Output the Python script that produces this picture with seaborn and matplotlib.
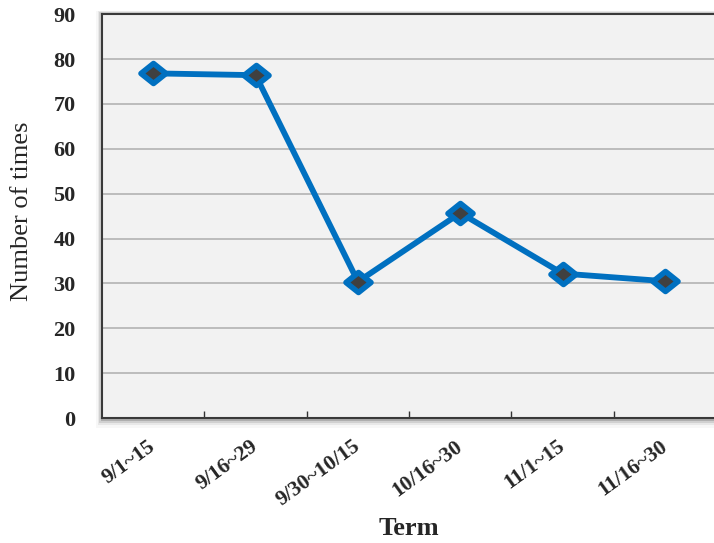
import matplotlib
matplotlib.use("Agg")
import matplotlib.pyplot as plt
from matplotlib.patches import Rectangle
from matplotlib.path import Path
import numpy as np
import pandas as pd
import seaborn as sns

terms = ["9/1~15", "9/16~29", "9/30~10/15", "10/16~30", "11/1~15", "11/16~30"]
counts = [76.8, 76.4, 30.4, 45.7, 32.2, 30.5]
y_ticks = [0, 10, 20, 30, 40, 50, 60, 70, 80, 90]

sns.set_theme(style="white")
plt.rcParams["font.family"] = ["Liberation Serif", "DejaVu Serif"]

df = pd.DataFrame({"term": terms, "count": counts, "pos": np.arange(len(terms))})

fig = plt.figure(figsize=(7.14, 5.43), dpi=100)
fig.patch.set_facecolor("white")

left, bottom, width, height = 0.143, 0.230, 0.860, 0.744

# soft drop shadow behind the plot frame
for i, a in enumerate([0.16, 0.10, 0.06, 0.03]):
    off = (i + 1) * 1.5
    fig.patches.append(Rectangle((left - off / 714, bottom - 1.6 * off / 543),
                                 width + 2 * off / 714, height + 2.2 * off / 543,
                                 transform=fig.transFigure, facecolor="black",
                                 alpha=a, edgecolor="none", zorder=0))

ax = fig.add_axes([left, bottom, width, height])
ax.set_zorder(2)
ax.set_facecolor("#f2f2f2")

diamond = Path([(-1.25, 0), (0, 1), (1.25, 0), (0, -1), (-1.25, 0)],
               [Path.MOVETO, Path.LINETO, Path.LINETO, Path.LINETO, Path.CLOSEPOLY])

sns.lineplot(data=df, x="pos", y="count", ax=ax, sort=False, color="#0070c0",
             linewidth=4.2, marker=diamond, markersize=18,
             markerfacecolor="#404040", markeredgecolor="#0070c0",
             markeredgewidth=4, zorder=3)

ax.set_xlim(-0.5, len(terms) - 0.5)
ax.set_ylim(0, 90)
ax.set_yticks(y_ticks)
ax.set_yticklabels([str(t) for t in y_ticks], fontsize=16, fontweight="bold")
ax.yaxis.grid(True, color="#b8b8b8", linewidth=1.3)
ax.xaxis.grid(False)
ax.set_axisbelow(True)

ax.set_xticks(np.arange(len(terms)))
ax.set_xticklabels(terms, fontsize=15.5, fontweight="bold", rotation=36,
                   ha="right", va="center", rotation_mode="anchor")
ax.tick_params(axis="x", which="major", length=0, pad=19)
ax.set_xticks(np.arange(0.5, len(terms) - 0.5), minor=True)
ax.tick_params(axis="x", which="minor", direction="in", length=5, width=1,
               color="#333333", bottom=True)
ax.tick_params(axis="y", length=0, pad=19)

for side in ["left", "bottom", "top"]:
    ax.spines[side].set_visible(True)
    ax.spines[side].set_color("#3a3a3a")
    ax.spines[side].set_linewidth(1.5)
ax.spines["right"].set_visible(False)

ax.set_xlabel("Term", fontsize=19, fontweight="bold")
ax.xaxis.set_label_coords(0.5, -0.245)
ax.set_ylabel("Number of times", fontsize=19)
ax.yaxis.set_label_coords(-0.112, 0.512)

fig.savefig("out.png", dpi=100, facecolor="white")
